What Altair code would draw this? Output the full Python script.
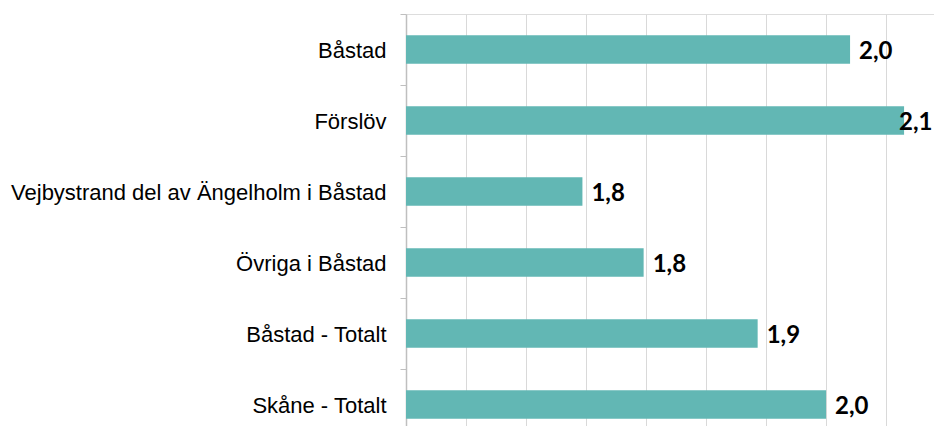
import altair as alt
import pandas as pd

categories = ["Båstad", "Förslöv", "Vejbystrand del av Ängelholm i Båstad",
              "Övriga i Båstad", "Båstad - Totalt", "Skåne - Totalt"]
values = [2.020, 2.065, 1.797, 1.848, 1.943, 2.000]
labels = ["2,0", "2,1", "1,8", "1,8", "1,9", "2,0"]
grid_values = [1.70, 1.75, 1.80, 1.85, 1.90, 1.95, 2.00, 2.05]
XMIN, XMAX = 1.65, 2.0966

df = pd.DataFrame({"cat": categories, "value": values, "label": labels})

xscale = alt.Scale(domain=[XMIN, XMAX], nice=False, zero=False)
yscale = alt.Scale(domain=categories, paddingInner=0, paddingOuter=0)

base = alt.Chart(df)

bars = base.mark_bar(color="#62B7B4", height=alt.RelativeBandSize(0.4)).encode(
    x=alt.X("value:Q", scale=xscale,
            axis=alt.Axis(values=grid_values, labels=False, ticks=False, domain=False,
                          grid=True, gridColor="#D9D9D9", gridWidth=1, title=None)),
    x2=alt.datum(XMIN),
    y=alt.Y("cat:N", scale=yscale, sort=categories,
            axis=alt.Axis(title=None, tickBand="extent", tickSize=6, tickColor="#BFBFBF",
                          domainColor="#BFBFBF", domainWidth=1.5, labelPadding=14,
                          labelFont="Liberation Sans", labelFontSize=22, labelColor="#000000",
                          labelBaseline="alphabetic", labelOffset=8, labelLimit=600,
                          grid=False)),
)

text_normal = base.transform_filter(alt.datum.value < 2.06).mark_text(
    align="left", baseline="alphabetic", dx=9, dy=9.8,
    font="Lato", fontSize=24, fontWeight="bold", color="#000000"
).encode(x=alt.X("value:Q", scale=xscale), y=alt.Y("cat:N", scale=yscale, sort=categories),
         text="label:N")

# label that would overflow the chart edge is pulled inwards (as in the original)
text_shift = base.transform_filter(alt.datum.value >= 2.06).mark_text(
    align="left", baseline="alphabetic", dx=-5, dy=9.8,
    font="Lato", fontSize=24, fontWeight="bold", color="#000000"
).encode(x=alt.X("value:Q", scale=xscale), y=alt.Y("cat:N", scale=yscale, sort=categories),
         text="label:N")

chart = alt.layer(bars, text_normal, text_shift).properties(
    width=536, height=426,
    autosize=alt.AutoSizeParams(type="none"),
    padding={"left": 398, "top": 6, "right": -8, "bottom": -14},
).configure_view(stroke=None).configure(background="white")

chart.save("out.html", embed_options={"renderer": "svg", "actions": False})
